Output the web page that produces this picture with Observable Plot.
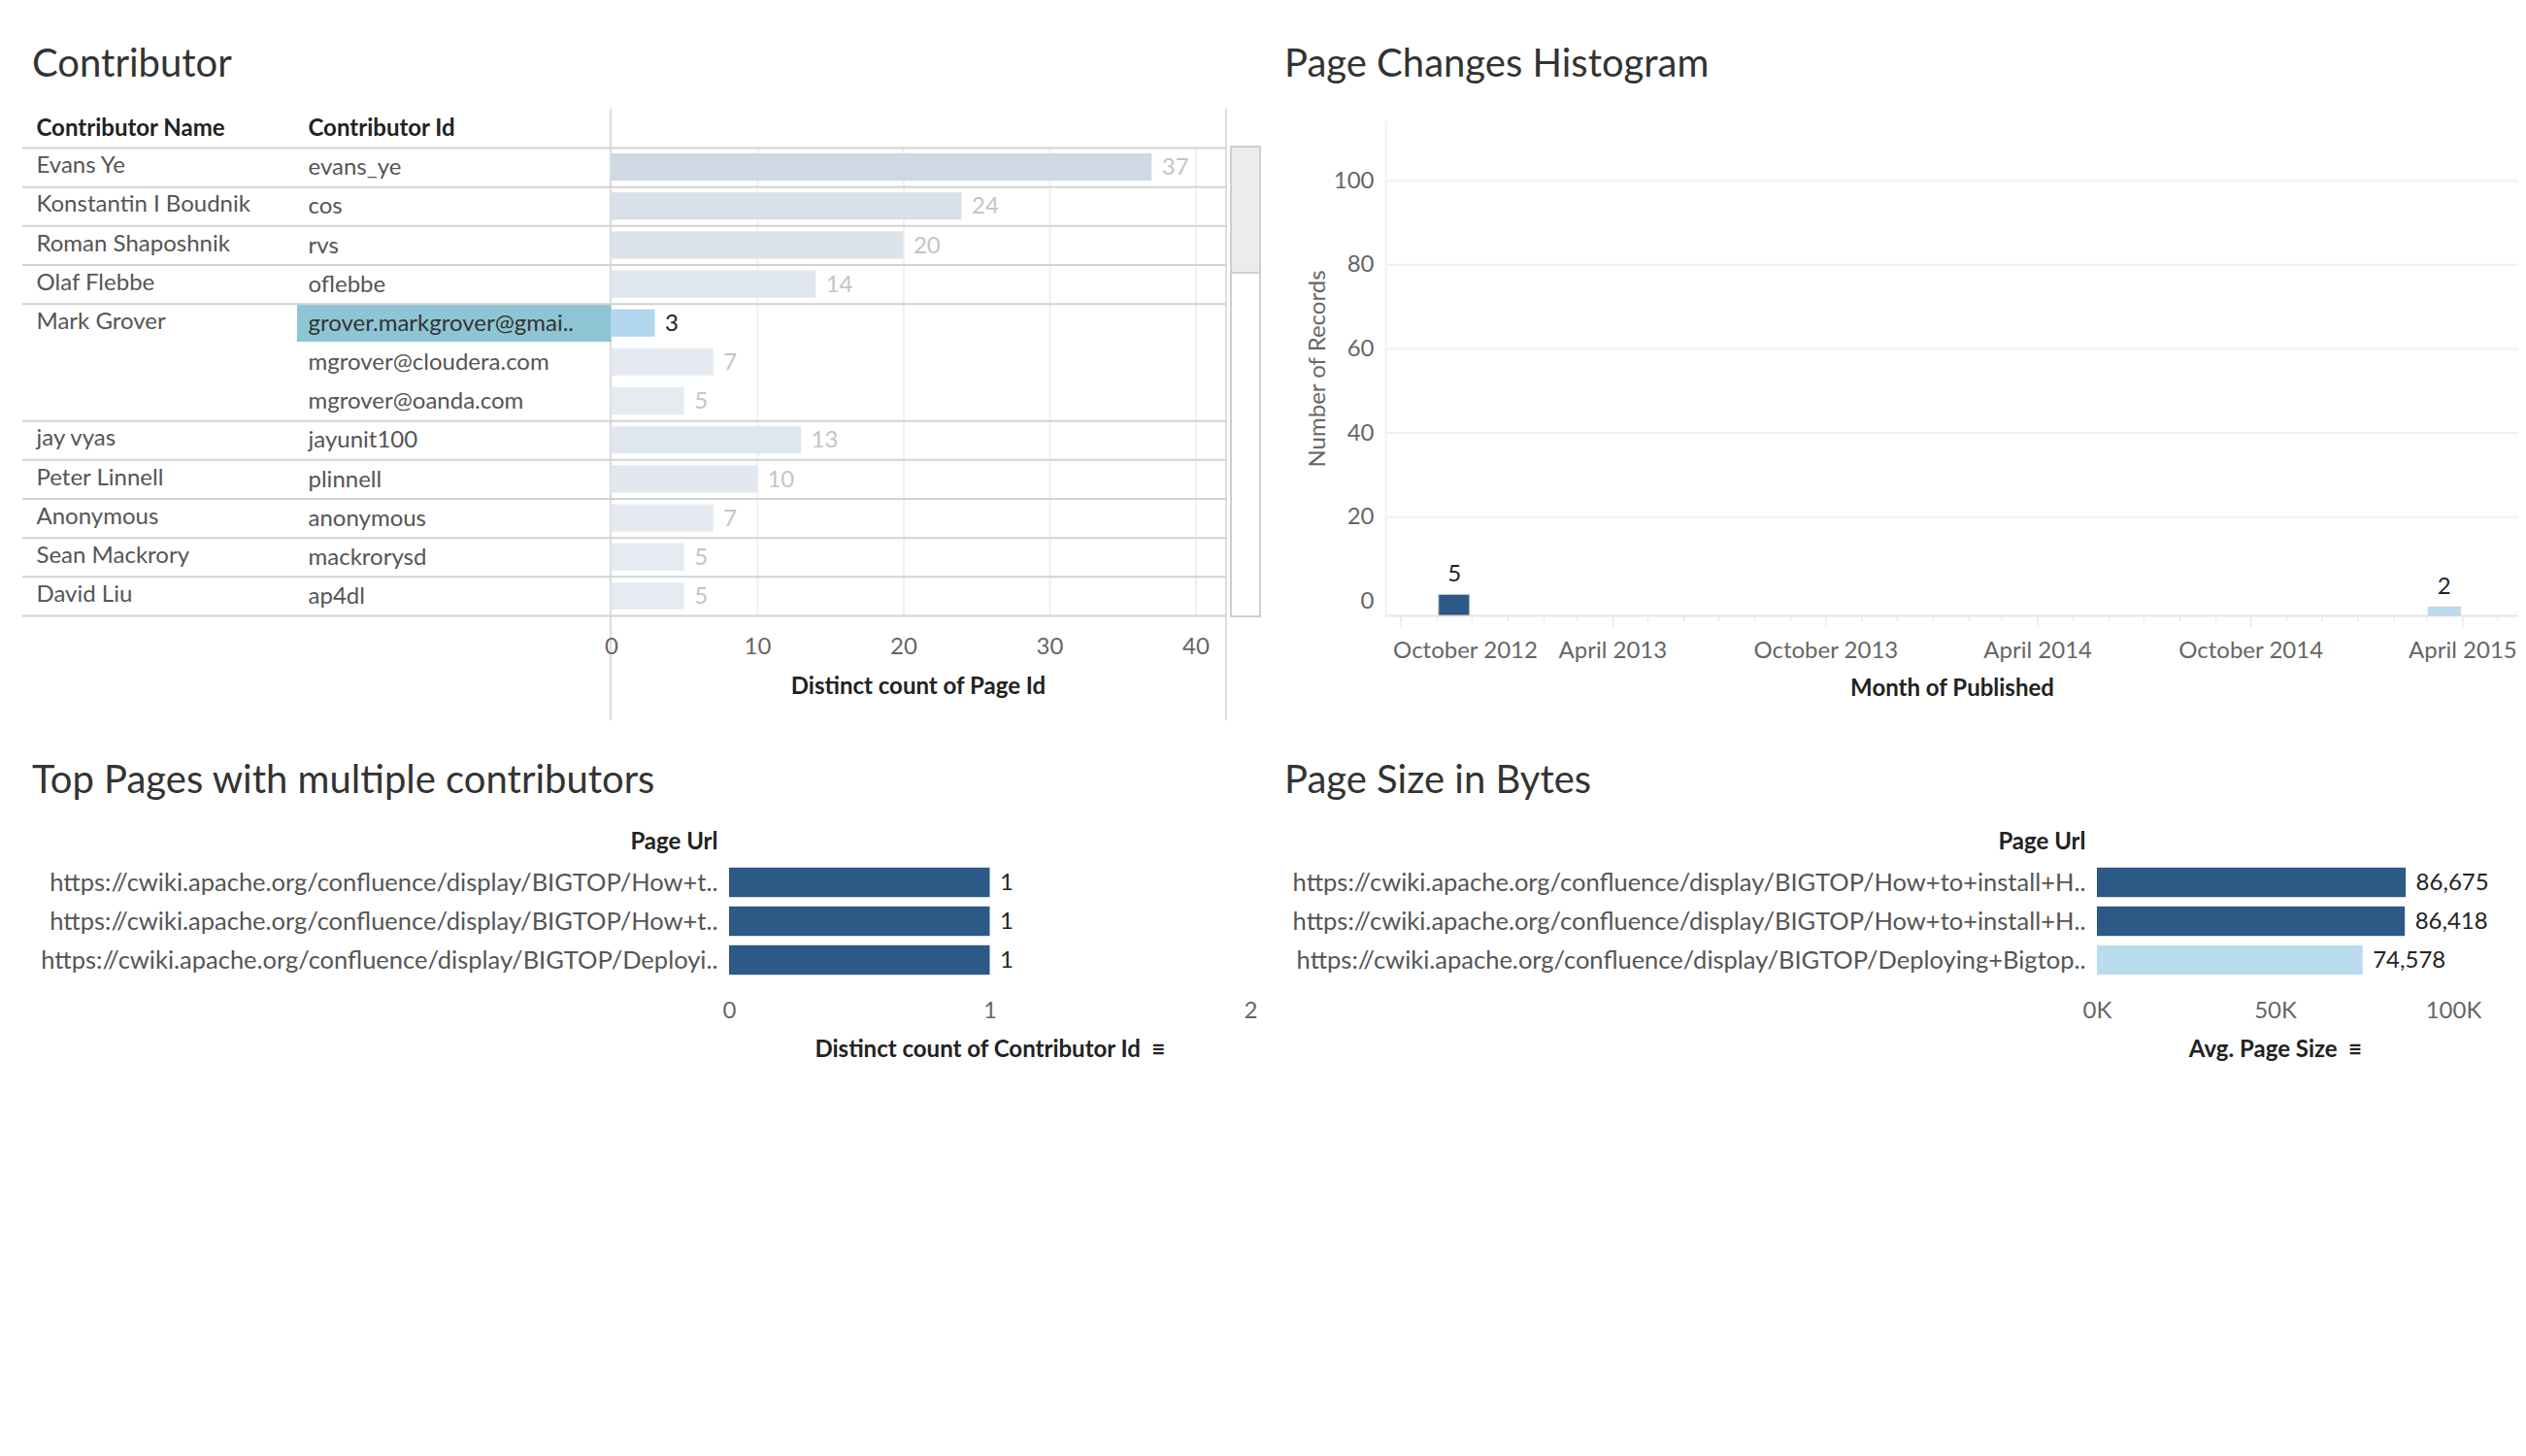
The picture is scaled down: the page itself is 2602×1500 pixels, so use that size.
<!DOCTYPE html>
<html>
<head>
<meta charset="utf-8">
<script src="https://cdn.jsdelivr.net/npm/d3@7"></script>
<script src="https://cdn.jsdelivr.net/npm/@observablehq/plot@0.6"></script>
<style>
  body { margin: 0; background: #fff; font-family: Lato, "Open Sans", sans-serif; }
  #board { position: relative; width: 2602px; height: 1500px; overflow: hidden; }
  .title { position: absolute; font-size: 40px; color: #333; }
  .pane { position: absolute; }
  .vline { position: absolute; width: 2px; background: #dcdcdc; }
</style>
</head>
<body>
<div id="board">
  <div class="title" style="left:33px;top:40px">Contributor</div>
  <div class="title" style="left:1323px;top:40px">Page Changes Histogram</div>
  <div class="title" style="left:33px;top:778px">Top Pages with multiple contributors</div>
  <div class="title" style="left:1323px;top:778px">Page Size in Bytes</div>
  <div class="vline" style="left:628px;top:112px;height:630px"></div>
  <div class="vline" style="left:1262px;top:112px;height:630px"></div>
  <div style="position:absolute;left:1267px;top:150px;width:28px;height:482px;border:2px solid #cfcfcf;background:#fff">
    <div style="height:128px;background:#ececec;border-bottom:2px solid #cfcfcf"></div>
  </div>
  <div class="pane" id="table" style="left:0;top:92px"></div>
  <div class="pane" id="hist" style="left:1300px;top:125px"></div>
  <div class="pane" id="pages" style="left:0;top:839px"></div>
  <div class="pane" id="sizes" style="left:1300px;top:839px"></div>
</div>
<script>
// contributor table
const contributorNames = ["Evans Ye","Konstantin I Boudnik","Roman Shaposhnik","Olaf Flebbe","Mark Grover","Mark Grover","Mark Grover","jay vyas","Peter Linnell","Anonymous","Sean Mackrory","David Liu"];
const contributorIds = ["evans_ye","cos","rvs","oflebbe","grover.markgrover@gmai..","mgrover@cloudera.com","mgrover@oanda.com","jayunit100","plinnell","anonymous","mackrorysd","ap4dl"];
const pageCounts = [37,24,20,14,3,7,5,13,10,7,5,5];
const highlightRow = 4;

// histogram
const histMonths = ["2012-11-01","2015-03-01"];
const histRecords = [5,2];
const histColors = ["#2c5985","#b9dcef"];

// top pages
const topPageUrls = ["https://cwiki.apache.org/confluence/display/BIGTOP/How+t..","https://cwiki.apache.org/confluence/display/BIGTOP/How+t..","https://cwiki.apache.org/confluence/display/BIGTOP/Deployi.."];
const contributorCounts = [1,1,1];

// page sizes
const sizePageUrls = ["https://cwiki.apache.org/confluence/display/BIGTOP/How+to+install+H..","https://cwiki.apache.org/confluence/display/BIGTOP/How+to+install+H..","https://cwiki.apache.org/confluence/display/BIGTOP/Deploying+Bigtop.."];
const avgPageSizes = [86675,86418,74578];
const sizeColors = ["#2c5985","#2c5985","#b9dcef"];

const rows = contributorNames.map((name, i) => ({i, name, id: contributorIds[i], count: pageCounts[i],
  first: i === 0 || contributorNames[i - 1] !== name}));
const separators = [0, ...rows.filter((d, i) => i + 1 === rows.length || rows[i + 1].first).map(d => d.i + 1)];
const barColor = d3.scaleLinear().domain([5, 37]).range(["#e6ebf1", "#cfd8e3"]);

const table = Plot.plot({
  width: 1263, height: 642, marginLeft: 23, marginRight: 0, marginTop: 60, marginBottom: 100,
  style: {fontFamily: "Lato", fontSize: "24px", color: "#555"},
  x: {domain: [-40.3, 42.1]},
  y: {domain: [12, 0], axis: null},
  marks: [
    Plot.ruleX([10, 20, 30, 40], {y1: 0, y2: 12, stroke: "#f0f0f0", strokeWidth: 2}),
    Plot.rect([highlightRow], {x1: -21.5, x2: 0, y1: d => d + 0.02, y2: d => d + 0.98, fill: "#8ec5d4"}),
    Plot.rectX(rows, {x1: 0, x2: "count", y1: d => d.i + 0.15, y2: d => d.i + 0.85,
      fill: d => d.i === highlightRow ? "#b3d7ee" : barColor(d.count)}),
    Plot.ruleY(separators, {stroke: "#d2d2d2", strokeWidth: 2}),
    Plot.text(rows, {x: "count", y: d => d.i + 0.5, text: d => String(d.count), dx: 10, textAnchor: "start",
      fill: d => d.i === highlightRow ? "#222" : "#c4c4c4", fontSize: 24}),
    Plot.text(rows.filter(d => d.first), {y: d => d.i + 0.45, text: "name", frameAnchor: "left", dx: 14, textAnchor: "start", fill: "#555"}),
    Plot.text(rows, {y: d => d.i + 0.5, text: "id", frameAnchor: "left", dx: 294, textAnchor: "start",
      fill: d => d.i === highlightRow ? "#333" : "#555"}),
    Plot.text(["Contributor Name"], {y: -0.5, text: d => d, frameAnchor: "left", dx: 14, textAnchor: "start", fill: "#222", fontWeight: "bold"}),
    Plot.text(["Contributor Id"], {y: -0.5, text: d => d, frameAnchor: "left", dx: 294, textAnchor: "start", fill: "#222", fontWeight: "bold"}),
    Plot.axisX({ticks: [0, 10, 20, 30, 40], tickSize: 0, tickPadding: 22, label: null, fill: "#666"}),
    Plot.text(["Distinct count of Page Id"], {x: 21, text: d => d, frameAnchor: "bottom", dy: 80, fill: "#222", fontWeight: "bold"})
  ]
});
d3.select("#table").append(() => table);

// histogram
const hist = histMonths.map((m, i) => ({month: new Date(m), records: histRecords[i], color: histColors[i]}));
const yBase = -3.5;
const majorTicks = [new Date("2012-10-01"), new Date("2013-04-01"), new Date("2013-10-01"), new Date("2014-04-01"), new Date("2014-10-01"), new Date("2015-04-01")];
const histogram = Plot.plot({
  width: 1302, height: 619, marginLeft: 127, marginRight: 8, marginTop: 0, marginBottom: 110,
  style: {fontFamily: "Lato", fontSize: "24px", color: "#666"},
  x: {type: "utc", domain: [new Date("2012-09-18"), new Date("2015-05-19")]},
  y: {domain: [yBase, 114]},
  marks: [
    Plot.ruleY([20, 40, 60, 80, 100], {stroke: "#f0f0f0", strokeWidth: 2}),
    Plot.ruleY([yBase], {stroke: "#e6e6e6", strokeWidth: 2}),
    Plot.ruleX([new Date("2012-09-18")], {stroke: "#f2f2f2", strokeWidth: 2}),
    Plot.rectY(hist, {x1: "month", x2: d => d3.utcMonth.offset(d.month, 1), y1: yBase, y2: d => yBase + d.records,
      fill: "color", stroke: "#d0d0d0", strokeWidth: 1, insetLeft: 2, insetRight: 2}),
    Plot.text(hist, {x: d => new Date(+d.month + 15 * 864e5), y: d => yBase + d.records, text: d => String(d.records), dy: -22, fill: "#222", fontSize: 24}),
    Plot.axisY({ticks: [0, 20, 40, 60, 80, 100], tickSize: 0, tickPadding: 12, label: "Number of Records", labelArrow: "none", labelAnchor: "center", labelOffset: 80}),
    Plot.axisX({ticks: d3.utcMonths(new Date("2012-10-01"), new Date("2015-06-01")), tickSize: 6, text: null, label: null, stroke: "#e3e3e3"}),
    Plot.axisX({ticks: majorTicks, tickSize: 12, text: null, label: null, stroke: "#e3e3e3"}),
    Plot.axisX({ticks: majorTicks.slice(0, 1), tickSize: 0, tickPadding: 26, tickFormat: d3.utcFormat("%B %Y"), textAnchor: "start", dx: -8, label: null}),
    Plot.axisX({ticks: majorTicks.slice(1), tickSize: 0, tickPadding: 26, tickFormat: d3.utcFormat("%B %Y"), label: null}),
    Plot.text(["Month of Published"], {frameAnchor: "bottom", text: d => d, dy: 82, fill: "#222", fontWeight: "bold"})
  ]
});
d3.select("#hist").append(() => histogram);

// horizontal bar panes
function pagePlot(urls, values, colors, opts) {
  const data = urls.map((u, i) => ({i, url: u, value: values[i], color: colors[i]}));
  return Plot.plot({
    width: opts.width, height: 270, marginLeft: opts.marginLeft, marginRight: opts.marginRight, marginTop: 50, marginBottom: 100,
    style: {fontFamily: "Lato", fontSize: "24px", color: "#666"},
    x: {domain: opts.domain},
    y: {domain: [3, 0], axis: null},
    marks: [
      Plot.rectX(data, {x1: 0, x2: "value", y1: d => d.i + 0.12, y2: d => d.i + 0.88, fill: "color"}),
      Plot.text(data, {x: "value", y: d => d.i + 0.5, text: d => opts.format(d.value), dx: 10, textAnchor: "start", fill: "#222"}),
      Plot.text(data, {y: d => d.i + 0.5, text: "url", frameAnchor: "left", dx: -12, textAnchor: "end", fill: "#555", fontSize: 25.5}),
      Plot.text(["Page Url"], {y: -0.55, text: d => d, frameAnchor: "left", dx: -12, textAnchor: "end", fill: "#222", fontWeight: "bold"}),
      Plot.axisX({ticks: opts.ticks, tickFormat: opts.tickFormat, tickSize: 0, tickPadding: 22, label: null}),
      Plot.text([opts.label + "  \u2261"], {frameAnchor: "bottom", text: d => d, dy: 79, fill: "#222", fontWeight: "bold"})
    ]
  });
}
d3.select("#pages").append(() => pagePlot(topPageUrls, contributorCounts, ["#2c5985", "#2c5985", "#2c5985"], {
  width: 1300, marginLeft: 751, marginRight: 12, domain: [0, 2], ticks: [0, 1, 2], tickFormat: d3.format("d"),
  format: d3.format("d"), label: "Distinct count of Contributor Id"}));
d3.select("#sizes").append(() => pagePlot(sizePageUrls, avgPageSizes, sizeColors, {
  width: 1302, marginLeft: 860, marginRight: 75, domain: [0, 100000], ticks: [0, 50000, 100000], tickFormat: d => d / 1000 + "K",
  format: d3.format(","), label: "Avg. Page Size"}));
</script>
</body>
</html>
